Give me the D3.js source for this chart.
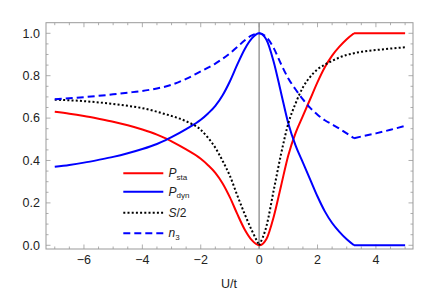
<!DOCTYPE html>
<html>
<head>
<meta charset="utf-8">
<script src="https://cdn.jsdelivr.net/npm/d3@7"></script>
<style>
  body { margin: 0; background: #fff; }
  text { font-family: "Liberation Sans", Arial, sans-serif; }
</style>
</head>
<body>
<svg id="chart" width="436" height="292"></svg>
<script>
// U/t grid shared by all series
var U = [-7, -6.5, -6, -5.5, -5, -4.5, -4, -3.5, -3.2, -3, -2.5, -2, -1.75, -1.5, -1.25, -1, -0.75, -0.5, -0.25, 0,
         0.25, 0.5, 0.75, 1, 1.25, 1.5, 1.75, 2, 2.25, 2.5, 2.75, 3, 3.25, 3.5, 4, 4.5, 5];

var Psta = [0.630, 0.621, 0.610, 0.597, 0.583, 0.566, 0.546, 0.522, 0.504, 0.490, 0.452, 0.408, 0.378, 0.342, 0.292, 0.226, 0.148, 0.076, 0.024, 0.0,
            0.030, 0.135, 0.280, 0.425, 0.530, 0.610, 0.690, 0.770, 0.840, 0.895, 0.937, 0.972, 1.0, 1.0, 1.0, 1.0, 1.0];
var Pdyn = [0.370, 0.379, 0.390, 0.403, 0.417, 0.434, 0.454, 0.478, 0.496, 0.510, 0.548, 0.592, 0.622, 0.658, 0.708, 0.774, 0.852, 0.924, 0.976, 1.0,
            0.970, 0.865, 0.720, 0.575, 0.470, 0.390, 0.310, 0.230, 0.160, 0.105, 0.063, 0.028, 0.0, 0.0, 0.0, 0.0, 0.0];
var S2 = [0.687, 0.684, 0.680, 0.674, 0.667, 0.658, 0.647, 0.630, 0.618, 0.610, 0.585, 0.545, 0.507, 0.460, 0.398, 0.327, 0.236, 0.149, 0.070, 0.0,
          0.090, 0.260, 0.430, 0.575, 0.670, 0.745, 0.795, 0.830, 0.852, 0.870, 0.886, 0.898, 0.906, 0.913, 0.921, 0.928, 0.934];
var n3 = [0.689, 0.694, 0.699, 0.705, 0.712, 0.720, 0.728, 0.740, 0.749, 0.757, 0.785, 0.820, 0.838, 0.857, 0.880, 0.906, 0.935, 0.966, 0.990, 1.0,
          0.982, 0.930, 0.855, 0.787, 0.735, 0.688, 0.648, 0.616, 0.590, 0.570, 0.550, 0.528, 0.505, 0.513, 0.528, 0.545, 0.563];

var xTicks = [-6, -4, -2, 0, 2, 4];
var yTicks = [0, 0.2, 0.4, 0.6, 0.8, 1.0];

var series = [
  {name: "sta", values: Psta, color: "#ff0000", dash: null, kinks: [3.25]},
  {name: "dyn", values: Pdyn, color: "#0000ff", dash: null, kinks: [3.25]},
  {name: "S", values: S2, color: "#000000", dash: "2,2.2", kinks: [0]},
  {name: "n3", values: n3, color: "#0000ff", dash: "7,4", kinks: [3.25]}
];

var svg = d3.select("#chart");
var pLeft = 46, pRight = 413, pTop = 22.7, pBottom = 249;
var x = d3.scaleLinear().domain([-7.3, 5.27]).range([pLeft, pRight]);
var y = d3.scaleLinear().domain([-0.0175, 1.05]).range([pBottom, pTop]);

var frameColor = "#999";

// zero line
svg.append("line")
  .attr("x1", x(0)).attr("x2", x(0))
  .attr("y1", pTop).attr("y2", pBottom)
  .attr("stroke", "#999").attr("stroke-width", 1.5);

// frame ticks (inside, all four sides)
var xMinor = d3.range(-7, 5.01, 0.5);
var yMinor = d3.range(0, 1.0001, 0.05);
function isMajor(v, list) { return list.some(function (t) { return Math.abs(t - v) < 1e-6; }); }

var g = svg.append("g").attr("stroke", frameColor).attr("stroke-width", 0.8);
xMinor.forEach(function (v) {
  var len = isMajor(v, xTicks) ? 4.5 : 2.5;
  g.append("line").attr("x1", x(v)).attr("x2", x(v)).attr("y1", pBottom).attr("y2", pBottom - len);
  g.append("line").attr("x1", x(v)).attr("x2", x(v)).attr("y1", pTop).attr("y2", pTop + len);
});
yMinor.forEach(function (v) {
  var len = isMajor(v, yTicks) ? 4.5 : 2.5;
  g.append("line").attr("x1", pLeft).attr("x2", pLeft + len).attr("y1", y(v)).attr("y2", y(v));
  g.append("line").attr("x1", pRight).attr("x2", pRight - len).attr("y1", y(v)).attr("y2", y(v));
});

svg.append("rect")
  .attr("x", pLeft).attr("y", pTop)
  .attr("width", pRight - pLeft).attr("height", pBottom - pTop)
  .attr("fill", "none").attr("stroke", frameColor).attr("stroke-width", 1);

// curves, split at kinks
series.forEach(function (s) {
  var pts = U.map(function (u, i) { return [u, s.values[i]]; });
  var cuts = [-Infinity].concat(s.kinks, [Infinity]);
  for (var k = 0; k < cuts.length - 1; k++) {
    var seg = pts.filter(function (p) { return p[0] >= cuts[k] - 1e-9 && p[0] <= cuts[k + 1] + 1e-9; });
    svg.append("path")
      .datum(seg)
      .attr("fill", "none")
      .attr("stroke", s.color)
      .attr("stroke-width", 2)
      .attr("stroke-dasharray", s.dash)
      .attr("d", d3.line().x(function (d) { return x(d[0]); }).y(function (d) { return y(d[1]); }).curve(d3.curveMonotoneX));
  }
});

// tick labels
svg.selectAll(".xl").data(xTicks).enter().append("text")
  .attr("x", function (d) { return x(d); }).attr("y", 264)
  .attr("text-anchor", "middle").attr("font-size", 12.5).attr("fill", "#222")
  .text(function (d) { return d < 0 ? "\u2212" + (-d) : d; });
svg.selectAll(".yl").data(yTicks).enter().append("text")
  .attr("x", 40).attr("y", function (d) { return y(d) + 4.3; })
  .attr("text-anchor", "end").attr("font-size", 12.5).attr("fill", "#222")
  .text(function (d) { return d.toFixed(1); });
svg.append("text")
  .attr("x", 229).attr("y", 288)
  .attr("text-anchor", "middle").attr("font-size", 12.5).attr("fill", "#222")
  .text("U/t");

// legend
var legendRows = [173.3, 191.7, 212.7, 233.3];
series.forEach(function (s, i) {
  svg.append("line")
    .attr("x1", 123.3).attr("x2", 163.3)
    .attr("y1", legendRows[i]).attr("y2", legendRows[i])
    .attr("stroke", s.color).attr("stroke-width", 2)
    .attr("stroke-dasharray", s.dash);
  var t = svg.append("text").attr("x", 168.5).attr("y", legendRows[i] + 4)
    .attr("font-size", 12).attr("fill", "#222");
  if (s.name === "sta" || s.name === "dyn") {
    t.append("tspan").attr("font-style", "italic").text("P");
    t.append("tspan").attr("font-size", 8).attr("dy", 2.5).text(s.name);
  } else if (s.name === "S") {
    t.append("tspan").attr("font-style", "italic").text("S");
    t.append("tspan").text("/2");
  } else {
    t.append("tspan").attr("font-style", "italic").text("n");
    t.append("tspan").attr("font-size", 8).attr("dy", 2.5).text("3");
  }
});
</script>
</body>
</html>
